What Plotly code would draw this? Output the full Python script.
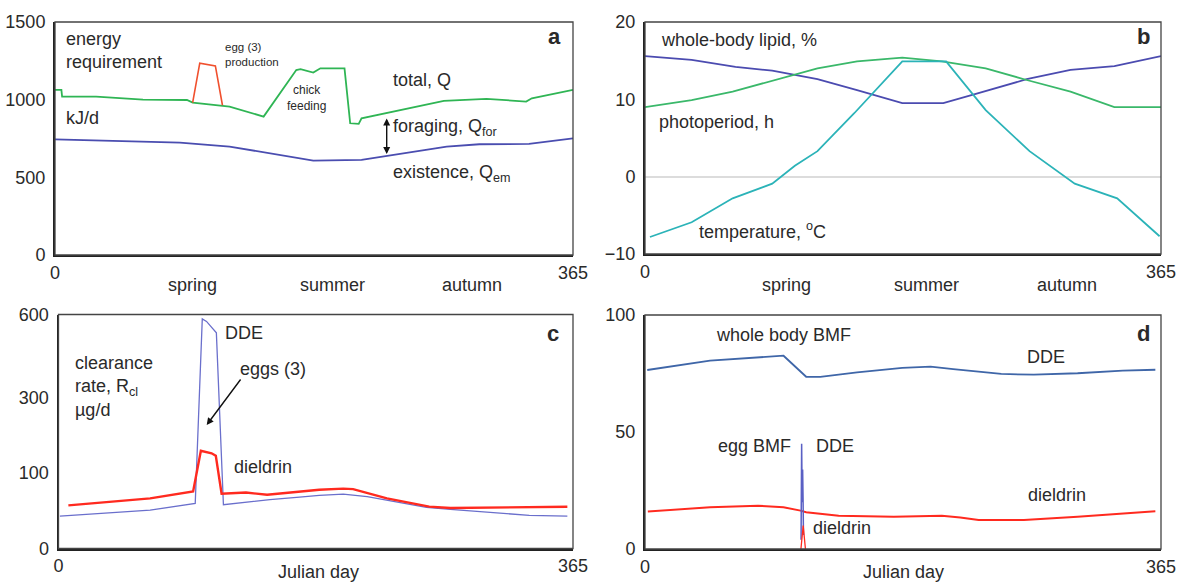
import numpy as np
import plotly.graph_objects as go

W, H = 1177, 584
FONT = "Liberation Sans, Arial, sans-serif"
TXT = "#2a2a2a"
FS = 18

# ---------------- Panel a: energy requirement (kJ/d) ----------------
a_total_day = [0, 4.5, 5, 29, 62, 93, 97, 123, 147, 170, 173, 182, 187, 204, 208, 214, 216, 274, 304, 332, 336, 365]
a_total_val = [1063, 1063, 1020, 1020, 1000, 998, 981, 955, 891, 1191, 1196, 1174, 1202, 1202, 848, 844, 880, 992, 1005, 988, 1009, 1063]
a_egg_day = [97, 102, 113, 118]
a_egg_val = [981, 1235, 1217, 964]
a_exist_day = [0, 15, 88, 123, 173, 182, 216, 276, 299, 334, 365]
a_exist_val = [745, 741, 724, 698, 623, 608, 612, 698, 713, 715, 751]

# ---------------- Panel b: lipid, photoperiod, temperature ----------------
b_lipid_day = [0, 33, 64, 90, 122, 150, 182, 211, 234, 270, 301, 332, 365]
b_lipid_val = [15.6, 15.1, 14.2, 13.7, 12.6, 11.2, 9.5, 9.5, 10.7, 12.6, 13.8, 14.3, 15.6]
b_photo_day = [0, 33, 62, 93, 122, 150, 182, 210, 241, 270, 301, 332, 365]
b_photo_val = [9.0, 9.9, 11.0, 12.5, 14.0, 14.9, 15.4, 14.9, 14.0, 12.5, 11.0, 9.0, 9.0]
b_temp_day = [3.5, 33, 62, 90, 106, 122, 148, 182, 213, 241, 272, 304, 334, 364]
b_temp_val = [-7.8, -5.9, -2.8, -0.9, 1.4, 3.3, 8.2, 14.9, 14.9, 8.6, 3.3, -0.9, -2.8, -7.7]

# ---------------- Panel c: clearance rate (ug/d) ----------------
c_dde_day = [1, 65, 97, 102, 105, 112, 117, 150, 171, 185, 202, 219, 261, 278, 334, 361]
c_dde_val = [26, 34, 44, 582, 572, 527, 42, 50, 54, 57, 59, 55, 38, 35, 27, 26]
c_diel_day = [7, 65, 95.5, 101, 108.6, 111.6, 115.7, 133, 148, 185, 202, 209, 233, 263, 278, 361]
c_diel_val = [41, 52, 64, 150, 144, 138, 60, 62, 58, 67, 69, 68, 52, 39, 37, 39]
c_ticks = [0, 100, 300, 600]

# ---------------- Panel d: BMF ----------------
d_dde_day = [1.6, 46, 98, 114, 124, 150, 182, 202, 218, 252, 275, 306, 338, 361]
d_dde_val = [76.5, 80.5, 82.6, 73.6, 73.6, 75.5, 77.4, 77.9, 76.9, 74.8, 74.5, 75.1, 76.2, 76.6]
d_diel_day = [2, 46, 80, 98, 110, 114, 137, 176, 210, 223, 236, 268, 306, 338, 361]
d_diel_val = [16.0, 17.8, 18.5, 17.8, 16.4, 15.7, 14.2, 13.8, 14.2, 13.5, 12.4, 12.4, 13.8, 15.2, 16.1]
d_eggdde_day = [110.4, 110.8, 111.2, 111.5, 111.8, 112.1]
d_eggdde_val = [4, 45, 20, 34, 22, 6]
d_eggdiel_day = [110.3, 111.9, 113.5]
d_eggdiel_val = [0, 10, 0]

EXP = 0.63


def tf(v):
    return (np.asarray(v, dtype=float) / 600.0) ** EXP


def px(x, y):
    return x / W, 1 - y / H


fig = go.Figure()

dom = {
    "a": ([55 / W, 573 / W], [1 - 255 / H, 1 - 22 / H]),
    "b": ([645 / W, 1161 / W], [1 - 254 / H, 1 - 22 / H]),
    "c": ([58.5 / W, 573 / W], [1 - 548.5 / H, 1 - 314.5 / H]),
    "d": ([645 / W, 1161 / W], [1 - 549 / H, 1 - 315 / H]),
}

fig.add_trace(go.Scatter(x=a_total_day, y=a_total_val, mode="lines", line=dict(color="#2fb554", width=1.8), xaxis="x", yaxis="y"))
fig.add_trace(go.Scatter(x=a_egg_day, y=a_egg_val, mode="lines", line=dict(color="#f0502e", width=1.6), xaxis="x", yaxis="y"))
fig.add_trace(go.Scatter(x=a_exist_day, y=a_exist_val, mode="lines", line=dict(color="#4a4db0", width=1.8), xaxis="x", yaxis="y"))

fig.add_trace(go.Scatter(x=b_lipid_day, y=b_lipid_val, mode="lines", line=dict(color="#4b4bb0", width=1.8), xaxis="x2", yaxis="y2"))
fig.add_trace(go.Scatter(x=b_photo_day, y=b_photo_val, mode="lines", line=dict(color="#3ab86a", width=1.8), xaxis="x2", yaxis="y2"))
fig.add_trace(go.Scatter(x=b_temp_day, y=b_temp_val, mode="lines", line=dict(color="#2bb3b8", width=1.8), xaxis="x2", yaxis="y2"))

fig.add_trace(go.Scatter(x=c_dde_day, y=tf(c_dde_val), customdata=c_dde_val, mode="lines", line=dict(color="#6a6fcc", width=1.3), xaxis="x3", yaxis="y3"))
fig.add_trace(go.Scatter(x=c_diel_day, y=tf(c_diel_val), customdata=c_diel_val, mode="lines", line=dict(color="#ff2a1f", width=2.4), xaxis="x3", yaxis="y3"))

fig.add_trace(go.Scatter(x=d_dde_day, y=d_dde_val, mode="lines", line=dict(color="#3f66a8", width=1.8), xaxis="x4", yaxis="y4"))
fig.add_trace(go.Scatter(x=d_diel_day, y=d_diel_val, mode="lines", line=dict(color="#ff2a1f", width=2.0), xaxis="x4", yaxis="y4"))
fig.add_trace(go.Scatter(x=d_eggdde_day, y=d_eggdde_val, mode="lines", line=dict(color="#5a60c4", width=1.5), xaxis="x4", yaxis="y4"))
fig.add_trace(go.Scatter(x=d_eggdiel_day, y=d_eggdiel_val, mode="lines", line=dict(color="#ff2a1f", width=1.3), xaxis="x4", yaxis="y4"))

tickfont = dict(family=FONT, size=FS, color=TXT)


def xax(domain, anchor):
    return dict(domain=domain, anchor=anchor, range=[0, 365], tickvals=[0, 365], ticktext=["0", "365"],
                showgrid=False, zeroline=False, showline=True, linecolor="#222", linewidth=2,
                ticks="", tickfont=tickfont, fixedrange=True, automargin=False)


def yax(domain, anchor, rng, tickvals, ticktext=None, zl=False):
    d = dict(domain=domain, anchor=anchor, range=rng, tickvals=tickvals, showgrid=False,
             zeroline=zl, showline=True, linecolor="#222", linewidth=2, ticks="",
             tickfont=tickfont, ticklabelstandoff=4, fixedrange=True, automargin=False)
    if ticktext is not None:
        d["ticktext"] = ticktext
    if zl:
        d["zerolinecolor"] = "#dcdcdc"
        d["zerolinewidth"] = 1.5
    return d


fig.update_layout(
    width=W, height=H, margin=dict(l=0, r=0, t=0, b=0, pad=0, autoexpand=False),
    paper_bgcolor="white", plot_bgcolor="white", showlegend=False,
    font=dict(family=FONT, color=TXT),
    xaxis=xax(dom["a"][0], "y"),
    yaxis=yax(dom["a"][1], "x", [0, 1500], [0, 500, 1000, 1500]),
    xaxis2=xax(dom["b"][0], "y2"),
    yaxis2=yax(dom["b"][1], "x2", [-10, 20], [-10, 0, 10, 20], zl=True),
    xaxis3=xax(dom["c"][0], "y3"),
    yaxis3=yax(dom["c"][1], "x3", [0, 1], list(tf(c_ticks)), [str(t) for t in c_ticks]),
    xaxis4=xax(dom["d"][0], "y4"),
    yaxis4=yax(dom["d"][1], "x4", [0, 100], [0, 50, 100]),
)

for xr, yr in [("x", "y"), ("x2", "y2"), ("x3", "y3"), ("x4", "y4")]:
    fig.add_shape(type="rect", xref=f"{xr} domain", yref=f"{yr} domain", x0=0, x1=1, y0=0, y1=1,
                  line=dict(color="#444", width=1.3), fillcolor="rgba(0,0,0,0)", layer="above")

anns = []


def txt(x, y, s, size=FS, xa="left", ya="middle", bold=False, align="left"):
    X, Y = px(x, y)
    anns.append(dict(x=X, y=Y, xref="paper", yref="paper", text=(f"<b>{s}</b>" if bold else s),
                     showarrow=False, xanchor=xa, yanchor=ya, align=align,
                     font=dict(family=FONT, size=size, color=TXT)))


# panel a labels
txt(64, 51, "energy<br>requirement")
txt(64, 118, "kJ/d")
txt(223, 54, "egg (3)<br>production", 11.5)
txt(306, 98, "chick<br>feeding", 12, xa="center", align="center")
txt(391, 80, "total, Q")
txt(391, 127, "foraging, Q<sub>for</sub>")
txt(391, 174, "existence, Q<sub>em</sub>")
txt(554, 37, "a", 22, xa="center", bold=True)
txt(192, 285, "spring", xa="center")
txt(332, 285, "summer", xa="center")
txt(472, 285, "autumn", xa="center")

# panel b labels
txt(659, 40, "whole-body lipid, %")
txt(657, 122, "photoperiod, h")
txt(697, 230, "temperature, <sup>o</sup>C")
txt(1143, 37, "b", 22, xa="center", bold=True)
txt(786, 285, "spring", xa="center")
txt(926, 285, "summer", xa="center")
txt(1067, 285, "autumn", xa="center")

# panel c labels
txt(223, 333, "DDE")
txt(73, 386, "clearance<br>rate, R<sub>cl</sub><br>µg/d")
txt(238, 369, "eggs (3)")
txt(232, 467, "dieldrin")
txt(553, 333, "c", 22, xa="center", bold=True)
txt(318, 572, "Julian day", xa="center")

# panel d labels
txt(714, 335, "whole body BMF")
txt(1025, 357, "DDE")
txt(1143, 333, "d", 22, xa="center", bold=True)
txt(716, 446, "egg BMF")
txt(814, 446, "DDE")
txt(1026, 495, "dieldrin")
txt(811, 528, "dieldrin")
txt(903, 572, "Julian day", xa="center")

# arrows
X, Y = px(386.7, 154)
anns.append(dict(x=X, y=Y, xref="paper", yref="paper", ax=0, ay=-37, text="", showarrow=True,
                 arrowhead=2, startarrowhead=2, arrowside="end+start", arrowsize=1, arrowwidth=1.4,
                 arrowcolor="#111"))
X, Y = px(206.7, 425)
anns.append(dict(x=X, y=Y, xref="paper", yref="paper", ax=35, ay=-47, text="", showarrow=True,
                 arrowhead=2, arrowsize=1, arrowwidth=1.4, arrowcolor="#111"))

fig.update_layout(annotations=anns)

fig.write_html("out.html", config={"displayModeBar": False},
               post_script="document.body.style.margin='0';document.body.style.overflow='hidden';")
